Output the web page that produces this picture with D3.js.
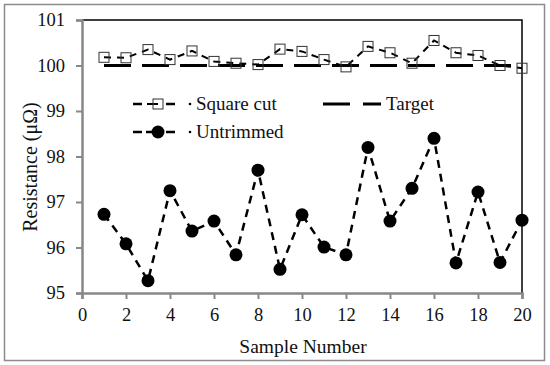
<!DOCTYPE html>
<html>
<head>
<meta charset="utf-8">
<script src="https://cdn.jsdelivr.net/npm/d3@7"></script>
<style>
  body { margin: 0; background: #fff; }
  svg text { font-family: "Liberation Serif", "Times New Roman", Times, "DejaVu Serif", serif; fill: #111; }
</style>
</head>
<body>
<svg id="chart" width="550" height="365"></svg>
<script>
// sample numbers 1..20
const samples = [1, 2, 3, 4, 5, 6, 7, 8, 9, 10, 11, 12, 13, 14, 15, 16, 17, 18, 19, 20];
const squareCut = [100.18, 100.17, 100.35, 100.13, 100.32, 100.09, 100.05, 100.02, 100.36, 100.31,
                   100.13, 99.97, 100.42, 100.28, 100.05, 100.55, 100.28, 100.22, 100.0, 99.94];
const untrimmed = [96.73, 96.08, 95.27, 97.25, 96.36, 96.58, 95.84, 97.7, 95.52, 96.72,
                   96.01, 95.84, 98.2, 96.58, 97.3, 98.4, 95.66, 97.22, 95.67, 96.6];
const target = [100, 100, 100, 100, 100, 100, 100, 100, 100, 100,
                100, 100, 100, 100, 100, 100, 100, 100, 100, 100];
const xTicks = [0, 2, 4, 6, 8, 10, 12, 14, 16, 18, 20];
const yTicks = [95, 96, 97, 98, 99, 100, 101];

const serif = '"Liberation Serif", "Times New Roman", Times, "DejaVu Serif", serif';
const svg = d3.select("#chart");
const plotL = 82, plotR = 522, plotT = 20, plotB = 293;

const x = d3.scaleLinear().domain([0, 20]).range([plotL, plotR]);
const y = d3.scaleLinear().domain([95, 101]).range([plotB, plotT]);

// outer frame
svg.append("rect")
    .attr("x", 4.5).attr("y", 4.5).attr("width", 540).attr("height", 356)
    .attr("fill", "none").attr("stroke", "#8c8c8c").attr("stroke-width", 1.5);

// plot box top/right
svg.append("path")
    .attr("d", `M${plotL},${plotT}H${plotR}V${plotB}`)
    .attr("fill", "none").attr("stroke", "#000").attr("stroke-width", 1.5);

// axes
const xAxis = svg.append("g")
    .attr("transform", `translate(0,${plotB})`)
    .call(d3.axisBottom(x).tickValues(xTicks).tickFormat(d3.format("d")).tickSize(6).tickPadding(9));
const yAxis = svg.append("g")
    .attr("transform", `translate(${plotL},0)`)
    .call(d3.axisLeft(y).tickValues(yTicks).tickFormat(d3.format("d")).tickSize(6).tickPadding(11));

[xAxis, yAxis].forEach((g) => {
    g.attr("font-family", serif).attr("font-size", 18.5);
    g.select(".domain").attr("stroke", "#888").attr("stroke-width", 2.5);
    g.selectAll(".tick line").attr("stroke", "#888").attr("stroke-width", 2);
    g.selectAll(".tick text").attr("fill", "#111");
});

// axis titles
svg.append("text")
    .attr("x", 303).attr("y", 353)
    .attr("text-anchor", "middle").attr("font-size", 19.5)
    .text("Sample Number");
svg.append("text")
    .attr("transform", "translate(37,167) rotate(-90)")
    .attr("text-anchor", "middle").attr("font-size", 20)
    .text("Resistance (μΩ)");

// target line
const line = d3.line().x((d, i) => x(samples[i])).y((d) => y(d));
svg.append("path")
    .datum(target)
    .attr("d", line)
    .attr("fill", "none").attr("stroke", "#000").attr("stroke-width", 3)
    .attr("stroke-dasharray", "27,11");

// square cut
svg.append("path")
    .datum(squareCut)
    .attr("d", line)
    .attr("fill", "none").attr("stroke", "#000").attr("stroke-width", 2)
    .attr("stroke-dasharray", "7,6");
svg.selectAll(".sq")
    .data(squareCut)
    .enter()
    .append("rect")
    .attr("class", "sq")
    .attr("x", (d, i) => x(samples[i]) - 5)
    .attr("y", (d) => y(d) - 5)
    .attr("width", 10).attr("height", 10)
    .attr("fill", "none").attr("stroke", "#333").attr("stroke-width", 1);

// untrimmed
svg.append("path")
    .datum(untrimmed)
    .attr("d", line)
    .attr("fill", "none").attr("stroke", "#000").attr("stroke-width", 2.5)
    .attr("stroke-dasharray", "8,6");
svg.selectAll(".dot")
    .data(untrimmed)
    .enter()
    .append("circle")
    .attr("class", "dot")
    .attr("cx", (d, i) => x(samples[i]))
    .attr("cy", (d) => y(d))
    .attr("r", 6.5)
    .attr("fill", "#000");

// legend
const legend = svg.append("g");
const rowSquare = 104, rowUntrim = 132;

[rowSquare, rowUntrim].forEach((ry) => {
    legend.append("path")
        .attr("d", `M133,${ry}H142M166,${ry}H175`)
        .attr("stroke", "#000").attr("stroke-width", 2.5);
    legend.append("circle")
        .attr("cx", 190).attr("cy", ry).attr("r", 1.3).attr("fill", "#000");
});
legend.append("path")
    .attr("d", `M147,${rowSquare}H158`)
    .attr("stroke", "#000").attr("stroke-width", 2);
legend.append("rect")
    .attr("x", 153).attr("y", rowSquare - 5).attr("width", 10).attr("height", 10)
    .attr("fill", "none").attr("stroke", "#333").attr("stroke-width", 1);
legend.append("path")
    .attr("d", `M146,${rowUntrim}H162`)
    .attr("stroke", "#000").attr("stroke-width", 2.5);
legend.append("circle")
    .attr("cx", 158).attr("cy", rowUntrim).attr("r", 6.5).attr("fill", "#000");

legend.append("text").attr("x", 196).attr("y", rowSquare + 6)
    .attr("font-size", 19).text("Square cut");
legend.append("text").attr("x", 196).attr("y", rowUntrim + 6)
    .attr("font-size", 19).text("Untrimmed");

legend.append("path")
    .attr("d", `M323,${rowSquare}H350M363,${rowSquare}H381`)
    .attr("stroke", "#000").attr("stroke-width", 3);
legend.append("text").attr("x", 386).attr("y", rowSquare + 6)
    .attr("font-size", 19).text("Target");
</script>
</body>
</html>
